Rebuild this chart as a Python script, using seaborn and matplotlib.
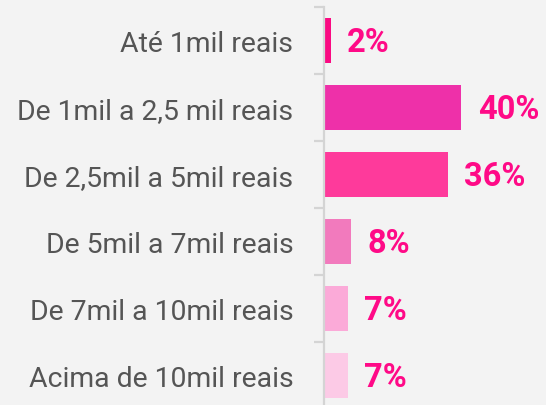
import matplotlib
matplotlib.use('Agg')
import matplotlib.pyplot as plt
import seaborn as sns
import pandas as pd
import numpy as np

# data
faixas = ['Até 1mil reais', 'De 1mil a 2,5 mil reais', 'De 2,5mil a 5mil reais',
          'De 5mil a 7mil reais', 'De 7mil a 10mil reais', 'Acima de 10mil reais']
percentuais = [2, 40, 36, 8, 7, 7]
cores = ['#FA0A82', '#EE30A9', '#FE3A9B', '#F27ABD', '#FBAAD8', '#FCCAE6']

df = pd.DataFrame({'faixa': faixas, 'pct': percentuais})

sns.set_style('white')
plt.rcParams['font.family'] = ['Roboto', 'DejaVu Sans']

fig = plt.figure(figsize=(5.46, 4.06), dpi=100)
fig.patch.set_facecolor('#f3f3f3')
ax = fig.add_axes([324 / 546, -4 / 406, 222 / 546, 402 / 406])
ax.set_facecolor('none')

sns.barplot(data=df, x='pct', y='faixa', hue='faixa', palette=cores,
            legend=False, width=0.67, ax=ax, saturation=1, linewidth=0)

for i, v in enumerate(percentuais):
    ax.text(v + 4.8, i + 0.02, f'{v}%', va='center', ha='left', fontsize=23.5,
            fontweight='bold', color='#FF0A87')

ax.set_xlim(0, 64.7)
ax.set_ylim(len(faixas) - 0.5, -0.5)
ax.set_xlabel('')
ax.set_ylabel('')
ax.set_xticks([])

for s in ['top', 'right', 'bottom']:
    ax.spines[s].set_visible(False)
ax.spines['left'].set_color('#d4d4d4')
ax.spines['left'].set_linewidth(1.6)

ax.set_yticks(range(len(faixas)))
ax.set_yticklabels(faixas, fontsize=20.4, color='#555555')
ax.tick_params(axis='y', which='major', length=0, pad=22)
ax.set_yticks(np.arange(-0.5, len(faixas), 1), minor=True)
ax.tick_params(axis='y', which='minor', length=7, width=1.6, color='#d4d4d4', left=True)

fig.savefig('out.png', dpi=100, facecolor=fig.get_facecolor())
